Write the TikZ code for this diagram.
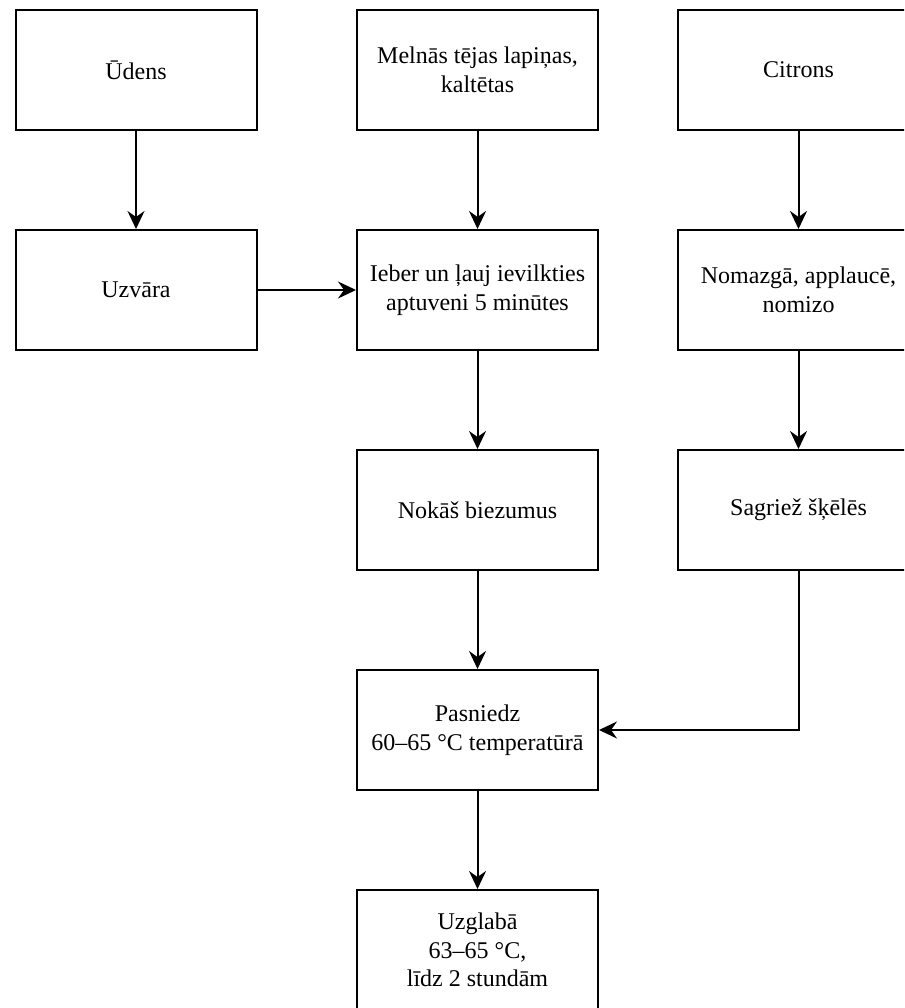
\documentclass[tikz,border=0pt]{standalone}
\usepackage{fontspec}
\setmainfont{Liberation Serif}
\usetikzlibrary{arrows.meta}
\begin{document}
\begin{tikzpicture}[x=1pt,y=-1pt,
  stepbox/.style={draw, line width=2pt, minimum width=241pt, minimum height=120pt,
    inner sep=0pt, align=center, font=\fontsize{24}{28.5}\selectfont},
  flow/.style={draw, line width=2pt, -{Stealth[length=18pt,width=17pt,inset=6pt]}}]
\useasboundingbox (0,0) rectangle (904,1008);
\clip (0,0) rectangle (904,1008);
% left column
\node[stepbox] (udens)  at (136,70)  {Ūdens};
\node[stepbox] (uzvara) at (136,290) {Uzvāra};
% middle column
\node[stepbox] (lapinas)  at (477.5,70)  {Melnās tējas lapiņas,\\kaltētas};
\node[stepbox] (ieber)    at (477.5,290) {Ieber un ļauj ievilkties\\aptuveni 5 minūtes};
\node[stepbox] (nokas)    at (477.5,510) {Nokāš biezumus};
\node[stepbox] (pasniedz) at (477.5,730) {Pasniedz\\60–65 °C temperatūrā};
\node[stepbox] (uzglaba)  at (477.5,950) {Uzglabā\\63–65 °C,\\līdz 2 stundām};
% right column
\node[stepbox] (citrons)  at (798.5,70)  {Citrons};
\node[stepbox] (nomazga)  at (798.5,290) {Nomazgā, applaucē,\\nomizo};
\node[stepbox] (sagriez)  at (798.5,510) {Sagriež šķēlēs};
% connectors
\draw[flow] (udens) -- (uzvara);
\draw[flow] (uzvara) -- (ieber);
\draw[flow] (lapinas) -- (ieber);
\draw[flow] (ieber) -- (nokas);
\draw[flow] (nokas) -- (pasniedz);
\draw[flow] (pasniedz) -- (uzglaba);
\draw[flow] (citrons) -- (nomazga);
\draw[flow] (nomazga) -- (sagriez);
\draw[flow] (sagriez.south) |- (pasniedz.east);
\end{tikzpicture}
\end{document}
